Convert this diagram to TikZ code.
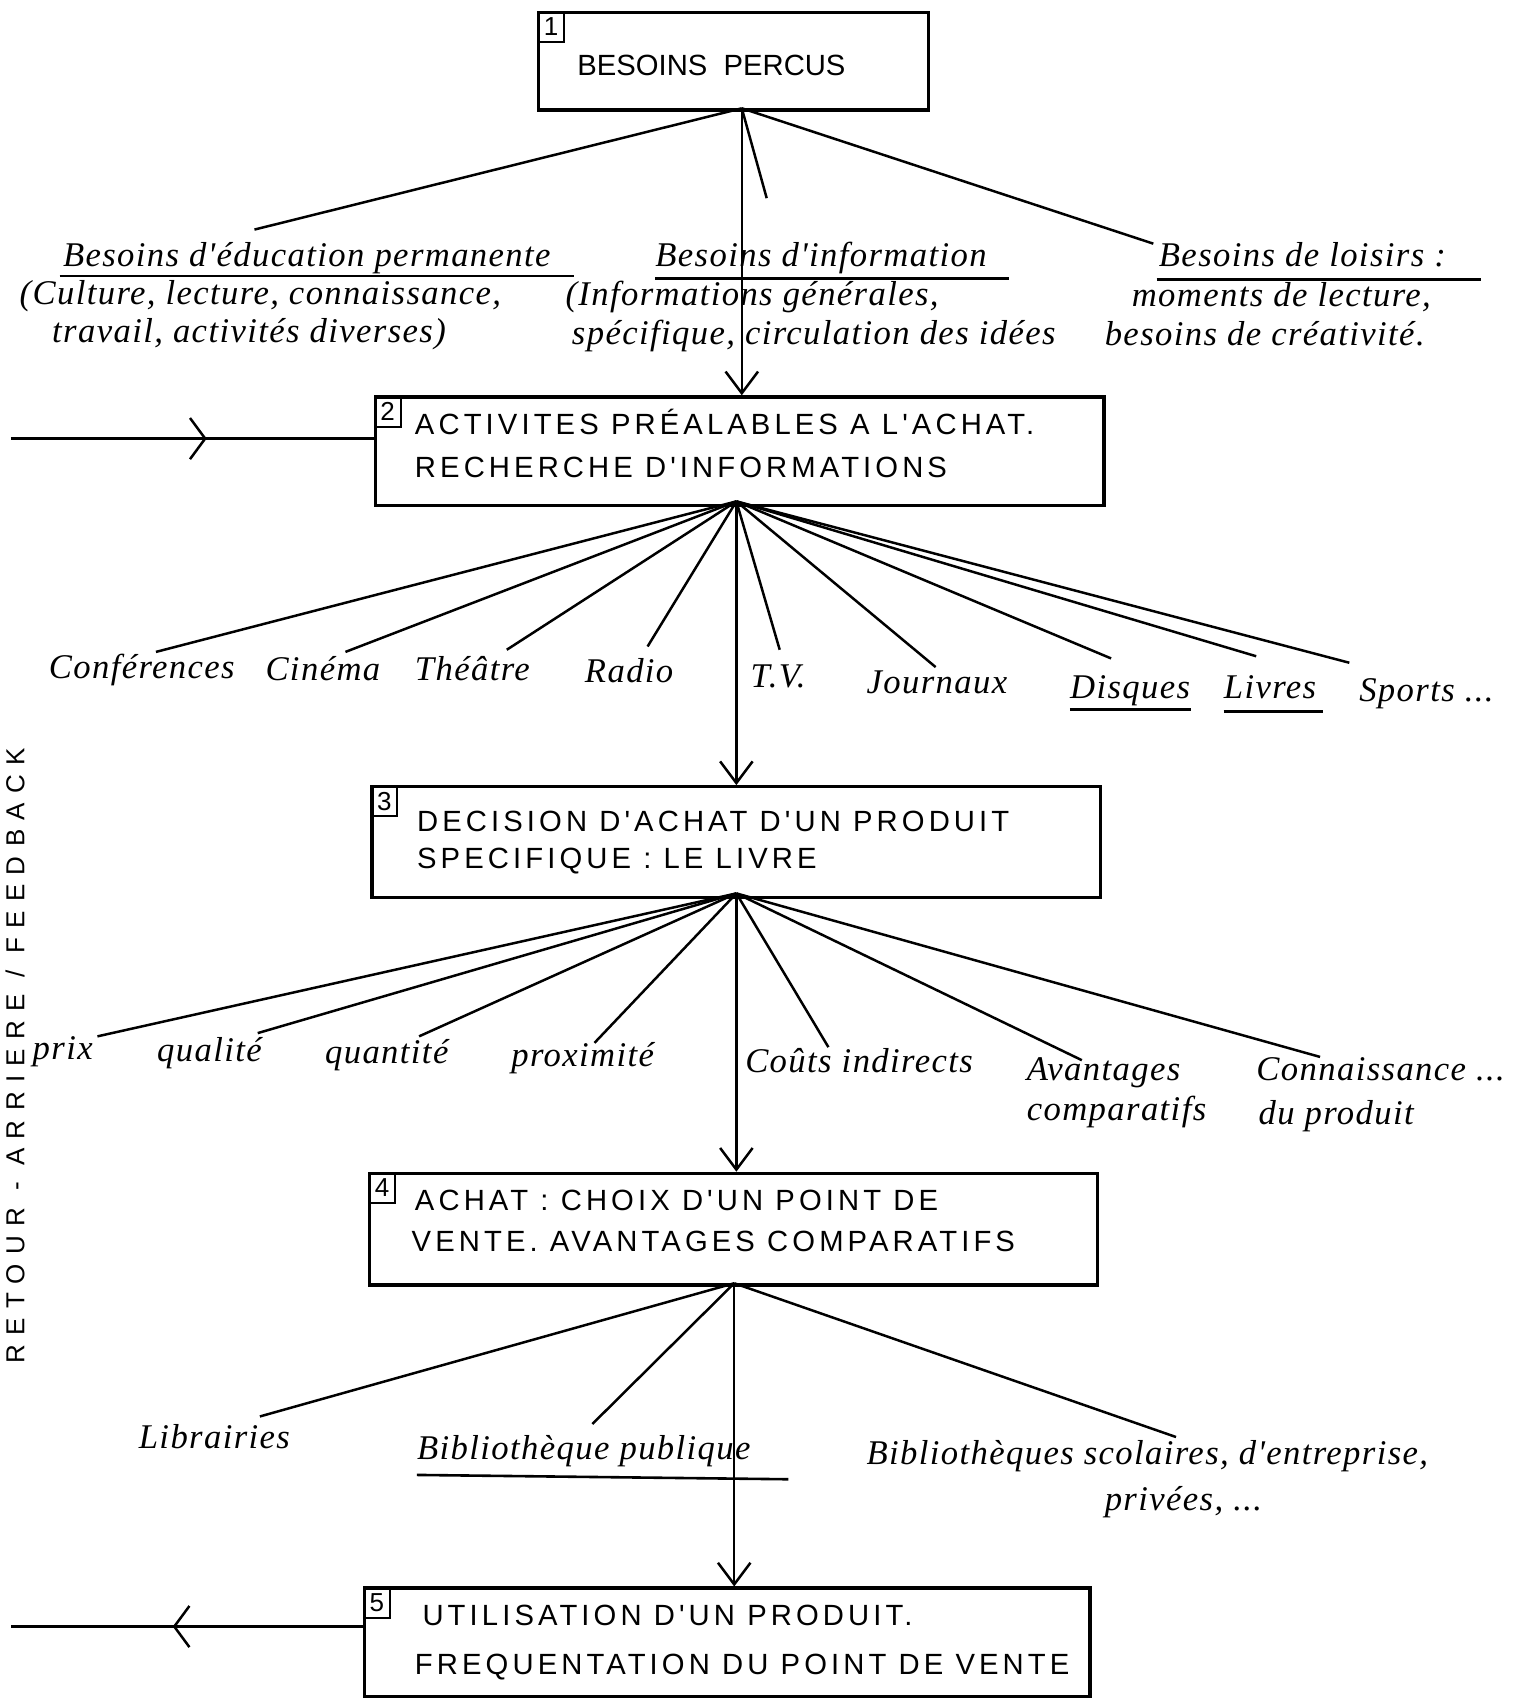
\documentclass[tikz,border=0pt]{standalone}
\usepackage{fontspec}
\setmainfont{Liberation Sans}
\newfontfamily\handfont{Liberation Serif}[LetterSpace=4]
\newfontfamily\capsfont{Liberation Sans}[LetterSpace=14]
\newfontfamily\spacedfont{Liberation Sans}[LetterSpace=36]
\usetikzlibrary{arrows.meta,decorations.markings}

\begin{document}
\begin{tikzpicture}[x=1pt,y=-1pt,
  stagebox/.style={draw, line width=3pt, inner sep=0pt, anchor=north west},
  numbox/.style={draw, line width=1.8pt, inner sep=1pt, anchor=north west,
    minimum width=24pt, minimum height=28pt, font=\fontsize{24}{26}\selectfont},
  caps/.style={inner sep=0pt, anchor=base west, font=\capsfont\fontsize{27}{30}\selectfont},
  hand/.style={inner sep=0pt, anchor=base west, font=\handfont\itshape\fontsize{32}{35}\selectfont},
  link/.style={line width=2.3pt},
  flow/.style={line width=2.3pt, -{Straight Barb[length=20pt,width=30pt,line width=2.3pt]}},
  uline/.style={line width=2.4pt},
  midarrow/.style={line width=2.3pt, postaction={decorate},
    decoration={markings, mark=at position #1 with {\arrow{Straight Barb[length=14pt,width=38pt,line width=2.3pt]}}}}
]
\useasboundingbox (0,0) rectangle (1407,1568);

% ---------- stage boxes ----------
\node[stagebox, minimum width=360pt, minimum height=90pt]  (b1) at (496,10) {};
\node[stagebox, minimum width=673pt, minimum height=100pt] (b2) at (345,365) {};
\node[stagebox, minimum width=673pt, minimum height=102pt] (b3) at (342,725) {};
\node[stagebox, minimum width=672pt, minimum height=103pt] (b4) at (340,1082) {};
\node[stagebox, minimum width=670pt, minimum height=100pt] (b5) at (335,1465) {};

\node[numbox] (n1) at (b1.north west) {1};
\node[numbox] (n2) at (b2.north west) {2};
\node[numbox] (n3) at (b3.north west) {3};
\node[numbox] (n4) at (b4.north west) {4};
\node[numbox] (n5) at (b5.north west) {5};

\node[inner sep=0pt, anchor=base west, font=\fontsize{27}{30}\selectfont] (t1) at (533,70) {BESOINS\ \ PERCUS};
\node[caps] (t2a) at (383,401)  {ACTIVITES PRÉALABLES A L'ACHAT.};
\node[caps] (t2b) at (383,441)  {RECHERCHE D'INFORMATIONS};
\node[caps] (t3a) at (385,768)  {DECISION D'ACHAT D'UN PRODUIT};
\node[caps] (t3b) at (385,802)  {SPECIFIQUE : LE LIVRE};
\node[caps] (t4a) at (383,1118) {ACHAT : CHOIX D'UN POINT DE};
\node[caps] (t4b) at (380,1156) {VENTE. AVANTAGES COMPARATIFS};
\node[caps] (t5a) at (390,1501) {UTILISATION D'UN PRODUIT.};
\node[caps] (t5b) at (383,1546) {FREQUENTATION DU POINT DE VENTE};

% ---------- fan-out points ----------
\coordinate (a1) at (685,100);
\coordinate (a2) at (680,463);
\coordinate (a3) at (680,825);
\coordinate (a4) at (678,1185);

% ---------- level 1 : needs ----------
\node[hand] (l1a) at (58,246)   {Besoins d'éducation permanente};
\node[hand] (l1b) at (18,281)   {(Culture, lecture, connaissance,};
\node[hand] (l1c) at (48,316)   {travail, activités diverses)};
\node[hand] (l2a) at (605,246)  {Besoins d'information};
\node[hand] (l2b) at (522,282)  {(Informations générales,};
\node[hand] (l2c) at (528,318)  {spécifique, circulation des idées};
\node[hand] (l3a) at (1070,246) {Besoins de loisirs :};
\node[hand] (l3b) at (1045,283) {moments de lecture,};
\node[hand] (l3c) at (1020,319) {besoins de créativité.};

\draw[uline] (55,255) -- (530,255);
\draw[uline] (605,257) -- (932,257);
\draw[uline] (1068,258) -- (1368,258);

\coordinate (e1a) at (235,212);
\coordinate (e1b) at (708,183);
\coordinate (e1c) at (1065,225);
\draw[link] (a1) -- (e1a);
\draw[link] (a1) -- (e1b);
\draw[link] (a1) -- (e1c);
\draw[flow] (a1) -- (a1 |- b2.north);

% ---------- level 2 : information sources ----------
\node[hand] (s1) at (45,627)   {Conférences};
\node[hand] (s2) at (245,628)  {Cinéma};
\node[hand] (s3) at (383,628)  {Théâtre};
\node[hand] (s4) at (540,630)  {Radio};
\node[hand] (s5) at (693,635)  {T.V.};
\node[hand] (s6) at (800,640)  {Journaux};
\node[hand] (s7) at (988,645)  {Disques};
\node[hand] (s8) at (1130,645) {Livres};
\node[hand] (s9) at (1255,648) {Sports ...};
\draw[uline] (988,655) -- (1100,655);
\draw[uline] (1130,657) -- (1222,657);

\foreach \n/\p in {1/{144,602},2/{319,602},3/{468,600},4/{598,597},5/{720,600},
                   6/{864,616},7/{1026,608},8/{1160,606},9/{1246,612}}
  \coordinate (e2\n) at (\p);
\foreach \n in {1,...,9} \draw[link] (a2) -- (e2\n);
\draw[flow] (a2) -- (a2 |- b3.north);

% ---------- level 3 : purchase criteria ----------
\node[hand] (c1) at (30,978)    {prix};
\node[hand] (c2) at (145,980)   {qualité};
\node[hand] (c3) at (300,982)   {quantité};
\node[hand] (c4) at (472,985)   {proximité};
\node[hand] (c5) at (688,990)   {Coûts indirects};
\node[hand] (c6) at (948,998)   {Avantages};
\node[hand] (c6b) at (948,1035) {comparatifs};
\node[hand] (c7) at (1160,998)  {Connaissance ...};
\node[hand] (c7b) at (1162,1038) {du produit};

\foreach \n/\p in {1/{90,957},2/{238,954},3/{387,957},4/{549,963},
                   5/{765,967},6/{999,979},7/{1219,976}}
  \coordinate (e3\n) at (\p);
\foreach \n in {1,...,7} \draw[link] (a3) -- (e3\n);
\draw[flow] (a3) -- (a3 |- b4.north);

% ---------- level 4 : points of sale ----------
\node[hand] (p1) at (128,1338)  {Librairies};
\node[hand] (p2) at (385,1348)  {Bibliothèque publique};
\node[hand] (p3) at (800,1352)  {Bibliothèques scolaires, d'entreprise,};
\node[hand] (p3b) at (1020,1395) {privées, ...};
\draw[uline] (385,1362) -- (728,1366);

\coordinate (e41) at (240,1308);
\coordinate (e42) at (547,1315);
\coordinate (e43) at (1086,1327);
\foreach \n in {1,2,3} \draw[link] (a4) -- (e4\n);
\draw[flow] (a4) -- (a4 |- b5.north);

% ---------- feedback loop ----------
\coordinate (fin) at (10,405);
\coordinate (fout) at (10,1502);
\draw[midarrow=0.54] (fin) -- (fin -| b2.west);
\draw[midarrow=0.54] (fout -| b5.west) -- (fout);
\node[rotate=90, inner sep=0pt, font=\spacedfont\fontsize{24}{26}\selectfont] (fb) at (14,975)
  {RETOUR - ARRIERE / FEEDBACK};
\end{tikzpicture}
\end{document}
